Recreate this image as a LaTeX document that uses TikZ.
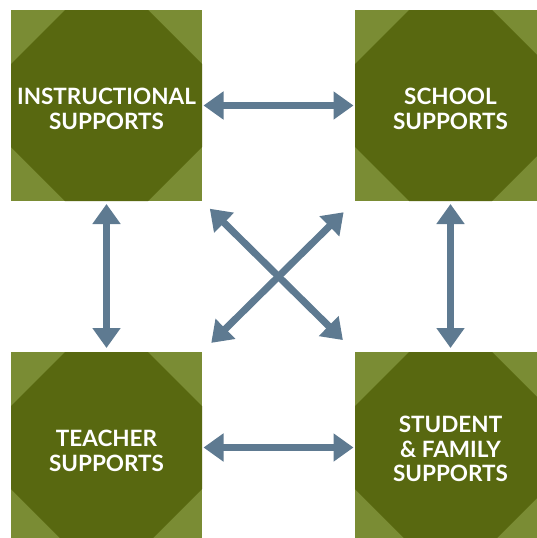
\documentclass[tikz,border=0pt]{standalone}
\usepackage{fontspec}
\setmainfont{Lato}
\usetikzlibrary{arrows.meta}

\definecolor{cornergreen}{HTML}{7A8C34}
\definecolor{octgreen}{HTML}{586810}
\definecolor{linkblue}{HTML}{5E7A91}

\tikzset{
  support/.style={rectangle, fill=cornergreen, minimum size=191pt, inner sep=0pt, outer sep=0pt,
    path picture={
      \fill[octgreen] (path picture bounding box.north west) ++(54pt,0pt)
        -- ++(83pt,0pt) -- ++(54pt,-54pt) -- ++(0pt,-83pt) -- ++(-54pt,-54pt)
        -- ++(-83pt,0pt) -- ++(-54pt,54pt) -- ++(0pt,83pt) -- cycle;
    }},
  supporttext/.style={text=white, align=center, inner sep=0pt, yshift=-3.5pt,
    font=\fontsize{22.5}{24.5}\selectfont\bfseries},
  link/.style={draw=linkblue, line width=7pt,
    {Triangle[width=27pt,length=20pt]}-{Triangle[width=27pt,length=20pt]}},
}

\begin{document}
\begin{tikzpicture}[x=1pt, y=-1pt]
  \useasboundingbox (0,0) rectangle (537,538);
  % Boxes
  \node (instr) [support, label={[supporttext]center:INSTRUCTIONAL\\SUPPORTS}] at (106.5,105.5) {};
  \node (school) [support, label={[supporttext]center:SCHOOL\\SUPPORTS}] at (450.5,105.5) {};
  \node (teacher) [support, label={[supporttext]center:TEACHER\\SUPPORTS}] at (106.5,447.5) {};
  \node (student) [support, label={[supporttext, yshift=2pt]center:STUDENT\\\& FAMILY\\SUPPORTS}] at (450.5,447.5) {};

  % Arrows
  \draw[link, shorten <=1.5pt, shorten >=1.5pt] (instr) -- (school);
  \draw[link, shorten <=1.5pt, shorten >=1.5pt] (teacher) -- (student);
  \draw[link, shorten <=3pt, shorten >=4pt] (instr) -- (teacher);
  \draw[link, shorten <=3pt, shorten >=4pt] (school) -- (student);
  \draw[link, shorten <=11pt, shorten >=17pt] (instr.south east) -- (student.north west);
  \draw[link, shorten <=16pt, shorten >=13pt] (school.south west) -- (teacher.north east);
\end{tikzpicture}
\end{document}
